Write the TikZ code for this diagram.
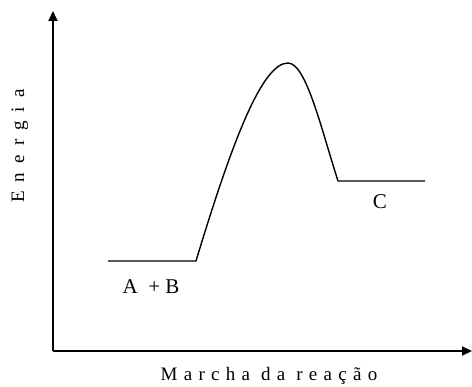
\documentclass[tikz,border=0pt]{standalone}
\usepackage{fontspec}
\setmainfont{Liberation Serif}
\usetikzlibrary{arrows.meta}
\begin{document}
\begin{tikzpicture}[x=1pt,y=-1pt,
  axis/.style={line width=1.8pt,-{Triangle[length=10pt,width=9pt]}},
  curve/.style={line width=1.4pt,line join=round},
  lbl/.style={inner sep=0pt,font=\fontsize{21}{24}\selectfont},
  axlbl/.style={inner sep=0pt,font=\fontsize{19}{22}\selectfont}]
\useasboundingbox (0,0) rectangle (472,387);
\coordinate (O) at (53,351);
\coordinate (Ytop) at (53,11);
\coordinate (Xend) at (472,351);
\draw[axis] (O) -- (Ytop);
\draw[axis] (O) -- (Xend);
\coordinate (r1) at (108,261);
\coordinate (r2) at (196,261);
\coordinate (top) at (288,63);
\coordinate (p1) at (338,181);
\coordinate (p2) at (425,181);
\draw[curve] (r1) -- (r2) .. controls (232,142) and (262,63) .. (top) .. controls (306,63) and (321,128) .. (p1) -- (p2);
\node[lbl,font=\fontsize{21}{24}\selectfont\addfontfeatures{LetterSpace=25}] (ab) at (151,287) {A +B};
\node[lbl] (c) at (380,202) {C};
\node[axlbl,rotate=90,font=\fontsize{19}{22}\selectfont\addfontfeatures{LetterSpace=48}] (en) at (20,146) {Energia};
\node[axlbl,font=\fontsize{19}{22}\selectfont\addfontfeatures{LetterSpace=33}] (mr) at (269,376) {Marcha da reação};
\end{tikzpicture}
\end{document}
